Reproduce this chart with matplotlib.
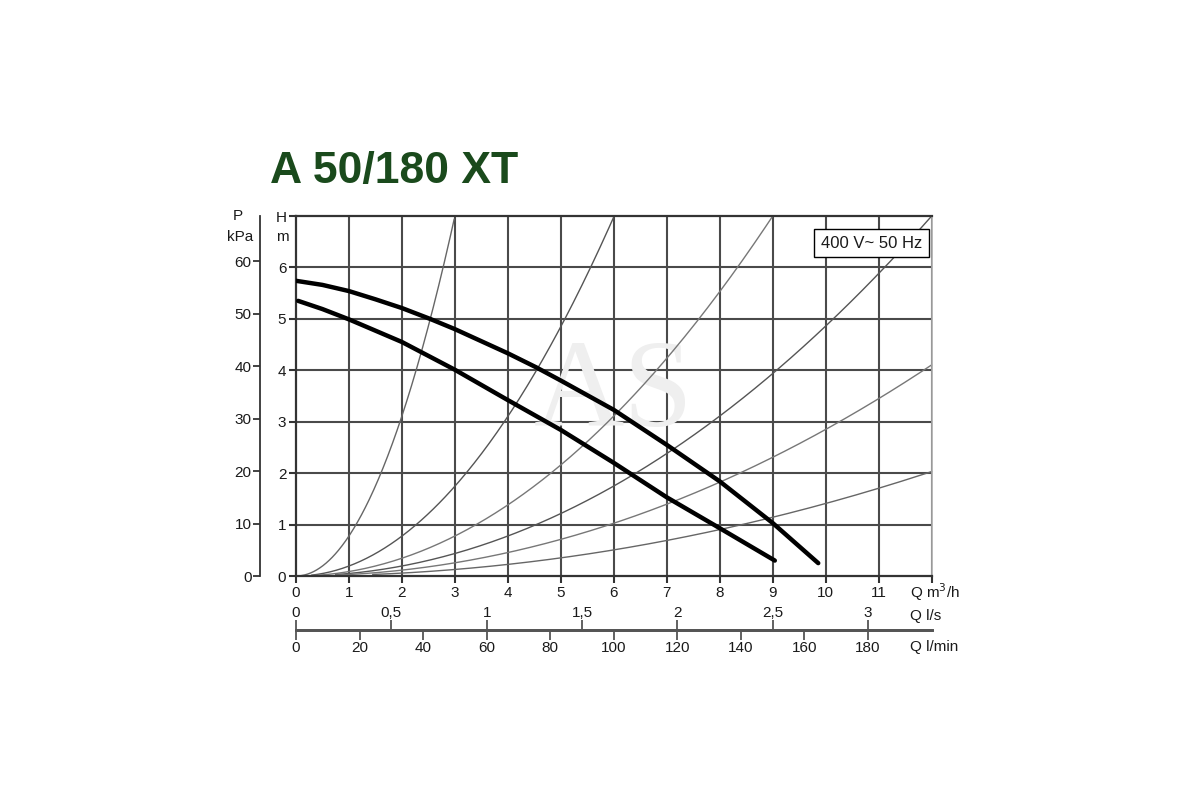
import numpy as np
import matplotlib
matplotlib.use("Agg")
import matplotlib.pyplot as plt

plt.rcParams['font.family'] = ['Liberation Sans', 'DejaVu Sans']

# ---- data ----
title = "A 50/180 XT"
box_label = "400 V~ 50 Hz"

# pump curves (Q m3/h, H m)
upper_q = [0.0, 0.5, 1.0, 1.5, 2.0, 2.53, 3.0, 4.0, 4.53, 5.0, 6.0, 7.0, 8.0, 9.0, 9.86]
upper_h = [5.74, 5.66, 5.54, 5.38, 5.21, 5.0, 4.80, 4.33, 4.06, 3.80, 3.23, 2.55, 1.84, 1.03, 0.25]
lower_q = [0.04, 0.5, 1.0, 1.5, 2.0, 3.0, 4.0, 5.0, 6.0, 7.0, 8.0, 9.04]
lower_h = [5.35, 5.19, 4.99, 4.77, 4.55, 4.01, 3.42, 2.84, 2.2, 1.53, 0.93, 0.30]

# system curves H = k*Q^2 : coefficient, start Q, end Q
sys_k = [0.778, 0.194, 0.0864, 0.0486, 0.0285, 0.0141]
sys_q0 = [0.1, 0.3, 0.25, 0.75, 0.75, 1.45]
sys_q1 = [3.0, 6.0, 9.0, 12.0, 12.0, 12.0]

q_ticks = list(range(0, 12))
h_ticks = list(range(0, 7))
kpa_ticks = [0, 10, 20, 30, 40, 50, 60]
ls_ticks = [0, 0.5, 1, 1.5, 2, 2.5, 3]
ls_labels = ["0", "0,5", "1", "1,5", "2", "2,5", "3"]
lmin_ticks = [0, 20, 40, 60, 80, 100, 120, 140, 160, 180]

# ---- figure ----
fig = plt.figure(figsize=(12, 8), dpi=100)
ax = fig.add_axes([296/1200, 1-576/800, (931.6-296)/1200, 360/800])
ax.set_xlim(0, 12)
ax.set_ylim(0, 7)

gridc = '#4a4a4a'
for v in range(1, 13):
    ax.axvline(v, color=gridc, lw=1.5, zorder=1)
for v in range(1, 7):
    ax.axhline(v, color=gridc, lw=1.5, zorder=1)

ax.spines['top'].set_color('#333333'); ax.spines['top'].set_linewidth(1.6)
ax.spines['right'].set_color('#aaaaaa'); ax.spines['right'].set_linewidth(1.2)
ax.spines['bottom'].set_color('#333333'); ax.spines['bottom'].set_linewidth(1.6)
ax.spines['left'].set_color('#333333'); ax.spines['left'].set_linewidth(1.6)

txtc = '#1a1a1a'
fs = 11
ax.set_xticks(list(range(0, 13)))
ax.set_xticklabels([str(v) for v in q_ticks] + [""])
ax.set_yticks(h_ticks + [7])
ax.set_yticklabels([str(v) for v in h_ticks] + ["H"])
ax.tick_params(axis='x', direction='out', length=5, width=1.5, color='#333333',
               labelsize=fs, labelcolor=txtc, pad=2)
ax.tick_params(axis='y', direction='out', length=5, width=1.5, color='#333333',
               labelsize=fs, labelcolor=txtc, pad=2)

# system curves
sys_cols = ['#666666', '#555555', '#777777', '#555555', '#777777', '#666666']
for k, q0, q1, c in zip(sys_k, sys_q0, sys_q1, sys_cols):
    q = np.linspace(q0, q1, 200)
    h = k * q**2
    m = h <= 7.0
    ax.plot(q[m], h[m], color=c, lw=1.0, zorder=2, clip_on=False)

# watermark
ax.text(6.0, 3.5, "AS", fontsize=90, color='#efefef', ha='center', va='center',
        zorder=1.5, family='Liberation Serif')

# pump curves
ax.plot(upper_q, upper_h, color='black', lw=3.2, zorder=4, solid_capstyle='round',
        solid_joinstyle='round')
ax.plot(lower_q, lower_h, color='black', lw=3.2, zorder=4, solid_capstyle='round',
        solid_joinstyle='round')

# box label
ax.text(10.86, 6.47, box_label, fontsize=12, color=txtc, ha='center', va='center', zorder=6,
        bbox=dict(boxstyle='square,pad=0.4', fc='white', ec='black', lw=1.0))

# P kPa axis
sec = ax.secondary_yaxis('left', functions=(lambda m: m * 9.81, lambda p: p / 9.81))
sec.spines['left'].set_position(('outward', 26))
sec.spines['left'].set_color('#333333')
sec.spines['left'].set_linewidth(1.3)
sec.set_yticks(kpa_ticks)
sec.set_yticklabels([str(v) for v in kpa_ticks])
sec.tick_params(axis='y', direction='out', length=5, width=1.3, color='#333333',
                labelsize=fs, labelcolor=txtc, pad=1)

# axis unit labels
fig.text(238/1200, 1-216/800, "P", fontsize=fs, color=txtc, ha='center', va='center')
fig.text(240/1200, 1-237/800, "kPa", fontsize=fs, color=txtc, ha='center', va='center')
fig.text(282/1200, 1-237/800, "m", fontsize=fs, color=txtc, ha='center', va='center')

# flow axes (l/s above line, l/min below)
loc = -54/360
ls_ax = ax.secondary_xaxis(loc, functions=(lambda q: q / 3.6, lambda s: s * 3.6))
lm_ax = ax.secondary_xaxis(loc, functions=(lambda q: q * 1000 / 60, lambda l: l * 60 / 1000))
for a in (ls_ax, lm_ax):
    for s in ['top', 'bottom']:
        a.spines[s].set_color('#555555')
        a.spines[s].set_linewidth(2.0)
ls_ax.set_xticks(ls_ticks)
ls_ax.set_xticklabels(ls_labels)
ls_ax.xaxis.set_ticks_position('top')
ls_ax.xaxis.set_label_position('top')
ls_ax.tick_params(axis='x', direction='out', length=7, width=1.3, color='#555555',
                  labelsize=fs, labelcolor=txtc, pad=0, top=True, bottom=False,
                  labeltop=True, labelbottom=False)
lm_ax.set_xticks(lmin_ticks)
lm_ax.set_xticklabels([str(v) for v in lmin_ticks])
lm_ax.tick_params(axis='x', direction='out', length=7, width=1.3, color='#555555',
                  labelsize=fs, labelcolor=txtc, pad=1, top=False, bottom=True,
                  labeltop=False, labelbottom=True)

fig.text(910/1200, 1-592/800, "Q m$^3$/h", fontsize=fs, color=txtc, ha='left', va='center')
fig.text(910/1200, 1-616/800, "Q l/s", fontsize=fs, color=txtc, ha='left', va='center')
fig.text(910/1200, 1-647/800, "Q l/min", fontsize=fs, color=txtc, ha='left', va='center')

# title
fig.text(270/1200, 1-171/800, title, fontsize=32, fontweight='bold', color='#1a4a1c',
         ha='left', va='center')

fig.savefig("out.png", dpi=100, facecolor='white')
